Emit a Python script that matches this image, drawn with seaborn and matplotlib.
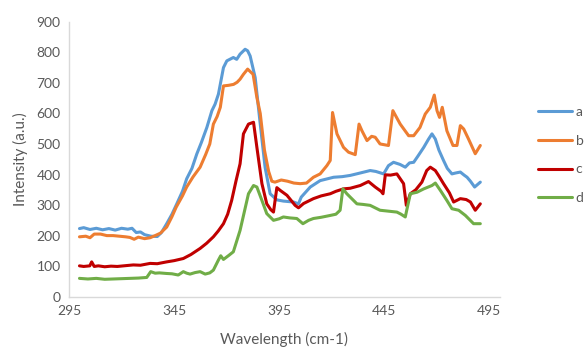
import seaborn as sns
import matplotlib.pyplot as plt
import pandas as pd

# series a (blue)
a_x = [300, 302, 305, 308, 311, 314, 317, 320, 323, 325, 327, 329, 331, 334, 337, 339, 341.5, 344, 346.3, 349, 351,
       353.5, 355.8, 358, 360.6, 363, 364.5, 366.1, 368.5, 370.1, 373.2, 374.8, 376.4, 378.8, 380, 381.2, 383.6, 386,
       388.3, 390.7, 393.9, 397, 401.8, 404.2, 405.5, 409.8, 414.5, 420.9, 425, 428.8, 433, 438.3, 441, 444.7, 447,
       449.4, 452.5, 455, 457, 459, 461, 463.8, 466, 467.7, 469.3, 471, 473.2, 475, 477.2, 479, 481.2, 483, 484.4,
       486, 488, 490.7]
a_y = [223, 226, 220, 224, 219, 223, 218, 224, 221, 224, 210, 212, 203, 198, 197, 210, 239, 270, 304, 345, 386,
       420, 467, 505, 554, 609, 630, 663, 750, 772, 783, 777, 794, 810, 805, 788, 717, 565,
       424, 337, 317, 313, 310, 304, 326, 359, 380, 391, 393, 397, 404, 413, 410, 402, 429,
       440, 433, 424, 438, 440, 460, 489, 515, 533, 516, 480, 446, 420, 402, 405, 408, 398, 391,
       378, 359, 375]

# series b (orange)
b_x = [300, 303, 305, 307, 310, 313, 316, 319, 322, 324, 326, 328, 331, 333.6, 336, 338.5, 341.5, 344, 346, 349,
       351, 354, 357.4, 360, 362, 363.7, 365.5, 367, 368.5, 371, 373.3, 375, 376.4, 378, 380, 382.6, 384.4, 386,
       388, 390, 391.5, 393, 396, 399, 402, 405, 408, 411.3, 414.5, 417.7, 419.3, 420.4, 422.5, 425.6, 428, 431.2,
       433, 434.4, 436.8, 439, 440.7, 443, 447, 449.1, 451, 452.6, 456.6, 459, 462, 464.5, 466.9, 468.8, 470.1,
       471.3, 472.6, 474.8, 477.7, 479.6, 481.2, 482.8, 485.1, 488.3, 490.7]
b_y = [196, 198, 193, 205, 205, 200, 200, 198, 196, 194, 188, 195, 190, 193, 200, 208, 228, 262, 293, 330,
       359, 392, 424, 465, 500, 565, 590, 620, 690, 692, 695, 702, 712, 728, 745, 728, 652, 600,
       480, 410, 378, 375, 382, 378, 372, 370, 372, 391, 402, 429, 446, 603, 533, 489, 473, 465,
       565, 543, 511, 525, 522, 500, 495, 609, 585, 565, 527, 527, 554, 598, 620, 660, 609,
       587, 620, 543, 495, 495, 560, 549, 516, 468, 495]

# series c (dark red)
c_x = [300, 302, 304.9, 305.8, 307, 309, 312, 315, 318, 321, 325.6, 329, 333.6, 337, 341.5, 345, 349.4, 353, 357.4,
       360.5, 363.7, 366, 368.5, 370.5, 372.4, 374.5, 376.4, 378, 380.4, 382.8, 384.4, 386.8, 389.1, 391, 392.3,
       393.9, 395.5, 398.7, 402.6, 404.2, 406.6, 411.3, 415, 419.3, 422, 425.6, 428.8, 433.6, 437.5, 440.7, 443.5,
       444.4, 445.5, 448, 451, 454.2, 455.5, 457.4, 460, 462.9, 465.2, 466.9, 469.3, 471, 473.2, 476, 478, 481.2,
       484, 486, 488.3, 490.7]
c_y = [101, 99, 101, 114, 99, 101, 98, 100, 99, 101, 104, 103, 109, 108, 114, 118, 125, 138, 158,
       175, 196, 215, 239, 270, 315, 380, 435, 533, 565, 571, 489, 370, 304, 285, 277,
       357, 348, 332, 299, 291, 305, 321, 330, 337, 345, 353, 355, 364, 377, 359, 345,
       337, 399, 398, 402, 370, 299, 337, 350, 375, 413, 424, 413, 395, 370, 340, 310, 321,
       318, 310, 283, 304]

# series d (green)
d_x = [300, 304, 308, 312, 316, 320, 324, 328, 332, 333.9, 336, 338, 341.5, 344, 347, 349.4, 351, 352.6, 355, 357.4,
       359.8, 362, 363.7, 366.1, 367.2, 368.5, 371, 373.2, 376.4, 378.5, 380.4, 382.8, 384.4, 386.8, 389.1, 392.3,
       395, 397, 400, 403.4, 406.3, 409, 411.3, 415, 419.3, 422, 424, 425.3, 427.2, 432, 435, 438.3, 443, 447, 451,
       453, 455, 457.4, 460.6, 463.8, 467.7, 469.3, 471.7, 474.8, 477.2, 480.4, 483.6, 487.5, 490.7]
d_y = [60, 58, 60, 57, 58, 59, 60, 61, 63, 82, 77, 78, 76, 75, 71, 82, 77, 74, 79, 82,
       74, 78, 87, 120, 134, 122, 135, 147, 217, 280, 337, 364, 359, 315, 272, 250,
       255, 261, 258, 256, 239, 250, 256, 260, 266, 270, 283, 353, 337, 304, 302, 299, 283, 280, 277,
       270, 261, 337, 342, 353, 364, 372, 348, 315, 288, 283, 266, 239, 239]

labels = ["a", "b", "c", "d"]
colors = ["#5B9BD5", "#ED7D31", "#C00000", "#70AD47"]
x_ticks = [295, 345, 395, 445, 495]
y_ticks = [0, 100, 200, 300, 400, 500, 600, 700, 800, 900]

frames = []
for lab, xs, ys in zip(labels, [a_x, b_x, c_x, d_x], [a_y, b_y, c_y, d_y]):
    frames.append(pd.DataFrame({"wl": xs, "val": ys, "series": lab}))
df = pd.concat(frames, ignore_index=True)

sns.set_style("white")
plt.rcParams["font.family"] = ["Lato", "DejaVu Sans"]

fig = plt.figure(figsize=(5.86, 3.51), dpi=100)
ax = fig.add_axes([0.1177, 0.1547, 0.853 - 0.1177, 0.938 - 0.1547])

sns.lineplot(data=df, x="wl", y="val", hue="series", palette=colors, sort=False,
             estimator=None, linewidth=2.2, ax=ax)

ax.set_xlim(295, 500)
ax.set_ylim(0, 900)
ax.set_xticks(x_ticks)
ax.set_yticks(y_ticks)
ax.tick_params(axis="both", length=0, labelsize=10, labelcolor="#595959", pad=6)
for s in ["top", "right"]:
    ax.spines[s].set_visible(False)
for s in ["left", "bottom"]:
    ax.spines[s].set_color("#D9D9D9")
    ax.spines[s].set_linewidth(1)

ax.set_xlabel("Wavelength (cm-1)", fontsize=11, color="#595959", labelpad=11)
ax.set_ylabel("Intensity (a.u.)", fontsize=11, color="#595959", labelpad=6)

leg = ax.legend(loc="center left", bbox_to_anchor=(1.06, 0.515), frameon=False, fontsize=10,
                handlelength=2.4, labelspacing=1.2, handletextpad=0.3)
for t in leg.get_texts():
    t.set_color("#595959")

fig.savefig("out.png", dpi=100)
